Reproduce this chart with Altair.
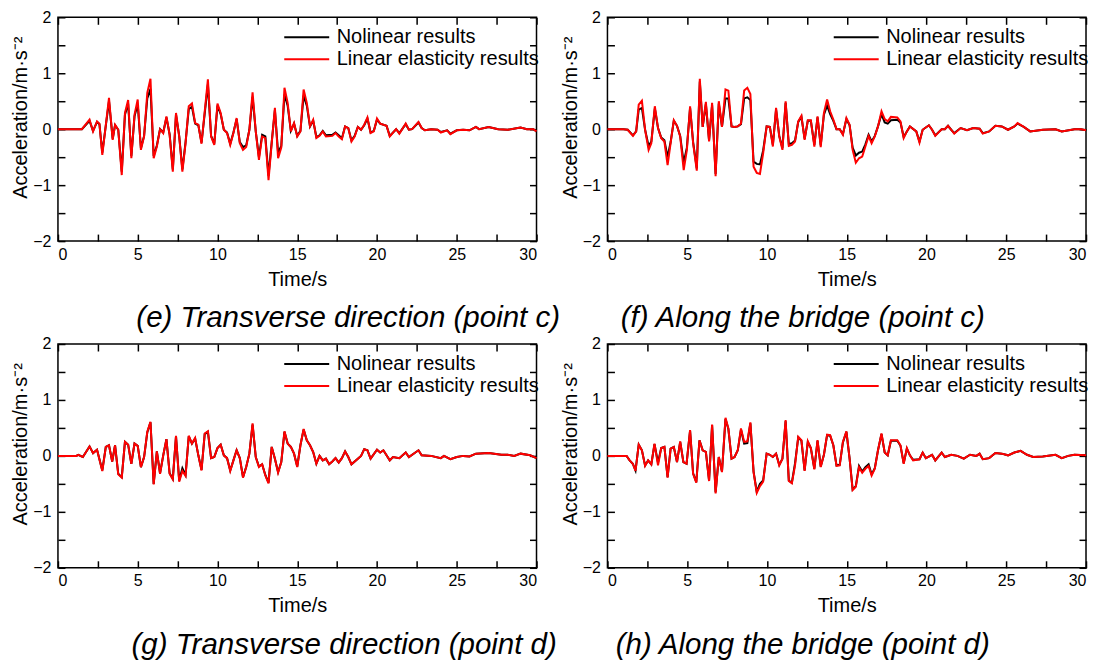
import altair as alt
import pandas as pd

S1 = "Nolinear results"
S2 = "Linear elasticity results"

# ---------------- Panel (e): Transverse direction, point c ----------------
T_E = [0, 1.5, 1.98, 2.2, 2.45, 2.6, 2.78, 3.2, 3.43, 3.58, 3.78, 4.0, 4.2, 4.4, 4.6, 4.8, 5.0, 5.2, 5.4, 5.6,
       5.8, 6.0, 6.2, 6.4, 6.6, 6.8, 7.0, 7.2, 7.4, 7.6, 7.8, 8.0, 8.2, 8.4, 8.6, 8.8, 9.0, 9.4, 9.6, 9.8,
       10.0, 10.2, 10.4, 10.6, 10.8, 11.0, 11.2, 11.4, 11.6, 11.8, 12.0, 12.2, 12.4, 12.6, 12.8, 13.0, 13.2, 13.4, 13.6, 13.8,
       14.0, 14.2, 14.4, 14.6, 14.8, 15.0, 15.2, 15.4, 15.6, 15.8, 16.0, 16.2, 16.4, 16.6, 16.8, 17.2, 17.4, 17.6, 17.8, 18.0,
       18.2, 18.4, 18.6, 18.8, 19.0, 19.2, 19.4, 19.6, 19.8, 20.0, 20.2, 20.6, 20.8, 21.2, 21.4, 21.8, 22.0, 22.2, 22.6, 22.8,
       23.0, 23.4, 23.8, 24.0, 24.4, 24.6, 25.0, 25.4, 25.8, 26.2, 26.4, 27.0, 27.6, 28.2, 29.0, 29.4, 29.8, 30.0]
LE_E = [0, 0, 0.17, -0.04, 0.14, 0.1, -0.46, 0.56, -0.19, 0.08, -0.01, -0.82, 0.29, 0.52, -0.52, 0.26, 0.53, -0.37, -0.13, 0.65,
        0.9, -0.52, -0.31, 0.0, -0.07, 0.23, -0.1, -0.76, 0.29, -0.13, -0.76, -0.25, 0.41, 0.46, 0.11, 0.08, -0.26, 0.89, -0.13, -0.28,
        0.46, 0.29, -0.01, -0.07, -0.28, -0.07, 0.2, -0.25, -0.37, -0.32, -0.01, 0.66, -0.04, -0.55, -0.13, -0.16, -0.91, -0.25, 0.38, -0.52,
        -0.33, 0.74, 0.47, -0.04, 0.11, -0.13, -0.04, 0.71, 0.47, 0.05, 0.17, -0.16, -0.12, -0.04, -0.13, -0.12, -0.07, -0.13, -0.18, 0.05,
        0.02, -0.22, -0.13, 0.04, -0.01, 0.08, 0.21, -0.07, -0.04, 0.19, 0.1, 0.06, -0.13, 0.0, -0.08, 0.1, -0.01, 0.0, 0.13, 0.02,
        -0.02, 0.0, -0.01, -0.06, -0.02, -0.09, -0.02, -0.01, -0.02, 0.04, 0.0, 0.04, 0.0, -0.01, 0.03, 0.0, 0.0, -0.04]
NL_E = [0, 0, 0.15, -0.03, 0.13, 0.09, -0.42, 0.5, -0.17, 0.07, -0.01, -0.76, 0.26, 0.46, -0.48, 0.23, 0.45, -0.34, -0.12, 0.55,
        0.72, -0.48, -0.29, 0.0, -0.06, 0.21, -0.09, -0.72, 0.26, -0.12, -0.72, -0.23, 0.36, 0.4, 0.1, 0.07, -0.24, 0.8, -0.12, -0.26,
        0.42, 0.27, -0.01, -0.06, -0.26, -0.06, 0.18, -0.23, -0.32, -0.29, -0.01, 0.58, -0.04, -0.5, -0.1, -0.13, -0.83, -0.23, 0.34, -0.42,
        -0.3, 0.62, 0.42, -0.03, 0.1, -0.12, -0.03, 0.6, 0.42, 0.05, 0.15, -0.14, -0.11, -0.03, -0.11, -0.1, -0.06, -0.11, -0.16, 0.05,
        0.02, -0.2, -0.12, 0.04, -0.01, 0.07, 0.19, -0.06, -0.03, 0.17, 0.1, 0.06, -0.12, 0.0, -0.07, 0.09, -0.01, 0.0, 0.12, 0.02,
        -0.02, 0.0, -0.01, -0.05, -0.02, -0.08, -0.02, -0.01, -0.02, 0.04, 0.0, 0.04, 0.0, -0.01, 0.03, 0.0, 0.0, -0.04]

# ---------------- Panel (f): Along the bridge, point c ----------------
T_F = [0, 1.0, 1.27, 1.6, 1.8, 1.96, 2.16, 2.36, 2.58, 2.75, 2.97, 3.17, 3.37, 3.57, 3.77, 3.96, 4.16, 4.36, 4.56, 4.78,
       4.98, 5.18, 5.37, 5.6, 5.79, 5.97, 6.17, 6.37, 6.56, 6.78, 6.98, 7.18, 7.4, 7.58, 7.78, 7.97, 8.17, 8.37, 8.57, 8.77,
       8.96, 9.16, 9.36, 9.56, 9.76, 9.98, 10.18, 10.37, 10.57, 10.77, 10.97, 11.17, 11.37, 11.56, 11.76, 11.96, 12.16, 12.36, 12.56, 12.75,
       12.97, 13.17, 13.37, 13.57, 13.77, 13.96, 14.16, 14.36, 14.56, 14.76, 14.98, 15.18, 15.37, 15.57, 15.77, 15.97, 16.17, 16.37, 16.56, 16.76,
       16.96, 17.18, 17.38, 17.57, 17.77, 18.17, 18.37, 18.57, 18.77, 18.96, 19.36, 19.56, 19.76, 20.15, 20.35, 20.55, 20.95, 21.15, 21.35, 21.55,
       21.74, 22.14, 22.54, 22.93, 23.33, 23.53, 23.93, 24.32, 24.72, 25.11, 25.51, 25.71, 26.1, 26.5, 27.3, 28.09, 28.48, 29.28, 29.68, 30.0]
LE_F = [0, 0, -0.01, -0.12, -0.04, 0.44, 0.51, -0.01, -0.37, -0.25, 0.41, 0.02, -0.16, -0.22, -0.64, -0.25, 0.16, 0.06, -0.13, -0.73,
        -0.37, 0.41, -0.25, -0.74, 0.9, 0.04, 0.49, -0.22, 0.47, -0.84, 0.5, 0.04, 0.71, 0.69, 0.05, 0.04, 0.05, 0.1, 0.69, 0.74,
        0.63, -0.67, -0.78, -0.8, -0.43, 0.05, 0.04, -0.31, 0.38, -0.13, -0.37, 0.5, -0.3, -0.28, -0.22, 0.14, 0.24, -0.19, 0.16, 0.16,
        -0.31, 0.23, -0.32, 0.29, 0.53, 0.32, 0.17, 0.0, 0.0, -0.1, 0.2, 0.08, -0.37, -0.6, -0.52, -0.49, -0.31, -0.12, -0.25, -0.13,
        0.05, 0.32, 0.18, 0.14, 0.22, 0.21, 0.14, -0.16, -0.04, 0.05, -0.04, -0.24, -0.01, 0.07, -0.01, -0.12, 0.0, 0.0, 0.06, -0.01,
        -0.08, 0.02, -0.02, 0.02, 0.01, -0.08, -0.04, 0.06, 0.05, -0.01, 0.05, 0.11, 0.04, -0.04, -0.01, 0.0, -0.04, 0.0, 0.0, -0.02]
NL_F = [0, 0, -0.01, -0.11, -0.04, 0.35, 0.38, -0.01, -0.3, -0.22, 0.37, 0.02, -0.15, -0.2, -0.5, -0.23, 0.15, 0.06, -0.12, -0.6,
        -0.33, 0.38, -0.23, -0.7, 0.85, 0.04, 0.45, -0.2, 0.43, -0.8, 0.46, 0.04, 0.55, 0.55, 0.05, 0.04, 0.05, 0.09, 0.55, 0.57,
        0.52, -0.58, -0.62, -0.63, -0.38, 0.05, 0.04, -0.28, 0.35, -0.12, -0.34, 0.47, -0.27, -0.25, -0.2, 0.13, 0.22, -0.17, 0.15, 0.15,
        -0.28, 0.21, -0.29, 0.26, 0.42, 0.27, 0.15, 0.0, 0.0, -0.09, 0.18, 0.07, -0.33, -0.47, -0.42, -0.4, -0.27, -0.1, -0.22, -0.12,
        0.05, 0.27, 0.12, 0.1, 0.16, 0.17, 0.12, -0.14, -0.04, 0.05, -0.04, -0.22, -0.01, 0.07, -0.01, -0.11, 0.0, 0.0, 0.06, -0.01,
        -0.07, 0.02, -0.02, 0.02, 0.01, -0.07, -0.04, 0.06, 0.05, -0.01, 0.05, 0.1, 0.04, -0.04, -0.01, 0.0, -0.04, 0.0, 0.0, -0.02]

# ---------------- Panel (g): Transverse direction, point d ----------------
T_G = [0, 1.16, 1.27, 1.56, 1.98, 2.2, 2.45, 2.78, 3.0, 3.2, 3.4, 3.58, 3.78, 4.0, 4.2, 4.4, 4.6, 4.8, 5.0, 5.2,
       5.4, 5.6, 5.8, 6.0, 6.2, 6.4, 6.6, 6.8, 7.0, 7.2, 7.4, 7.6, 7.8, 8.0, 8.2, 8.4, 8.6, 8.8, 9.0, 9.2,
       9.4, 9.6, 9.8, 10.0, 10.2, 10.4, 10.6, 10.8, 11.0, 11.2, 11.4, 11.6, 11.8, 12.0, 12.2, 12.4, 12.6, 12.8, 13.0, 13.2,
       13.4, 13.6, 13.8, 14.0, 14.2, 14.4, 14.6, 14.8, 15.0, 15.2, 15.4, 15.6, 15.8, 16.0, 16.2, 16.4, 16.6, 16.8, 17.0, 17.2,
       17.4, 17.6, 17.8, 18.0, 18.2, 18.4, 18.8, 19.0, 19.2, 19.4, 19.6, 20.0, 20.2, 20.4, 20.8, 21.0, 21.4, 21.8, 22.0, 22.6,
       22.8, 23.4, 24.0, 24.2, 24.6, 25.0, 25.4, 25.8, 26.2, 27.0, 27.8, 28.2, 28.6, 29.0, 29.6, 30.0]
LE_G = [0, 0, 0.02, -0.02, 0.17, 0.05, 0.11, -0.27, 0.16, 0.19, -0.1, 0.19, -0.33, -0.39, 0.25, 0.2, -0.14, 0.22, 0.18, -0.2,
        -0.02, 0.43, 0.61, -0.51, 0.08, -0.32, 0.01, 0.3, -0.32, -0.42, 0.36, -0.46, -0.27, -0.36, 0.36, 0.22, 0.32, 0.01, -0.26, 0.4,
        0.44, -0.04, -0.02, 0.14, 0.2, 0.01, -0.04, -0.27, -0.08, 0.1, -0.04, -0.39, -0.2, 0.04, 0.58, -0.02, -0.2, -0.15, -0.35, -0.49,
        0.16, -0.05, -0.3, -0.11, 0.44, 0.22, 0.16, 0.04, -0.2, 0.19, 0.48, 0.28, 0.19, 0.07, -0.14, 0.0, -0.08, -0.05, -0.15, -0.1,
        -0.04, -0.12, -0.04, 0.08, -0.02, -0.15, -0.05, 0.0, 0.12, 0.1, -0.05, 0.11, 0.06, 0.1, -0.08, -0.02, -0.04, 0.06, -0.02, 0.1,
        0.01, 0.0, -0.04, 0.0, -0.06, -0.02, 0.0, -0.01, 0.04, 0.05, 0.02, 0.02, 0.0, 0.04, 0.01, -0.04]
NL_G = [0, 0, 0.02, -0.02, 0.17, 0.05, 0.11, -0.26, 0.16, 0.19, -0.1, 0.19, -0.32, -0.38, 0.25, 0.2, -0.14, 0.22, 0.18, -0.2,
        -0.02, 0.42, 0.6, -0.5, 0.08, -0.31, 0.01, 0.3, -0.31, -0.41, 0.35, -0.44, -0.22, -0.34, 0.35, 0.22, 0.31, 0.01, -0.25, 0.39,
        0.43, -0.04, -0.02, 0.14, 0.2, 0.01, -0.04, -0.26, -0.08, 0.1, -0.04, -0.38, -0.2, 0.04, 0.56, -0.02, -0.19, -0.15, -0.34, -0.48,
        0.16, -0.05, -0.29, -0.11, 0.43, 0.22, 0.16, 0.04, -0.19, 0.19, 0.47, 0.28, 0.19, 0.07, -0.14, 0.0, -0.08, -0.05, -0.15, -0.1,
        -0.04, -0.12, -0.04, 0.08, -0.02, -0.15, -0.05, 0.0, 0.12, 0.1, -0.05, 0.11, 0.06, 0.1, -0.08, -0.02, -0.04, 0.06, -0.02, 0.1,
        0.01, 0.0, -0.04, 0.0, -0.06, -0.02, 0.0, -0.01, 0.04, 0.05, 0.02, 0.02, 0.0, 0.04, 0.01, -0.04]

# ---------------- Panel (h): Along the bridge, point d ----------------
T_H = [0, 1.2, 1.39, 1.59, 1.76, 1.96, 2.16, 2.36, 2.55, 2.75, 2.95, 3.17, 3.37, 3.57, 3.77, 3.96, 4.16, 4.36, 4.56, 4.76,
       4.96, 5.18, 5.37, 5.57, 5.77, 5.97, 6.17, 6.37, 6.56, 6.78, 6.98, 7.18, 7.4, 7.58, 7.78, 7.97, 8.17, 8.37, 8.57, 8.77,
       8.96, 9.16, 9.36, 9.56, 9.76, 9.98, 10.18, 10.37, 10.57, 10.77, 10.97, 11.17, 11.37, 11.56, 11.76, 11.96, 12.16, 12.36, 12.56, 12.75,
       12.97, 13.17, 13.37, 13.57, 13.77, 13.96, 14.16, 14.36, 14.56, 14.76, 14.98, 15.18, 15.37, 15.57, 15.77, 15.97, 16.17, 16.37, 16.56, 16.76,
       16.96, 17.18, 17.38, 17.57, 17.77, 18.17, 18.37, 18.57, 18.77, 18.96, 19.16, 19.56, 19.76, 19.96, 20.35, 20.55, 20.95, 21.15, 21.55, 21.94,
       22.34, 22.73, 23.13, 23.33, 23.53, 23.93, 24.32, 24.72, 25.11, 25.51, 25.9, 26.3, 26.69, 27.29, 28.09, 28.48, 28.88, 29.28, 30.0]
LE_H = [0, 0, -0.08, -0.14, -0.27, 0.2, 0.1, -0.18, -0.08, -0.15, 0.22, -0.17, 0.14, 0.16, -0.39, 0.13, 0.16, -0.11, 0.26, -0.11,
        -0.14, 0.46, -0.32, -0.48, 0.28, 0.1, 0.07, -0.45, 0.56, -0.67, -0.02, -0.29, 0.68, 0.49, -0.05, -0.02, 0.1, 0.49, 0.25, 0.26,
        0.6, -0.29, -0.66, -0.54, -0.46, 0.04, 0.02, -0.02, 0.04, -0.17, -0.05, 0.64, -0.45, -0.49, -0.17, 0.34, 0.28, -0.27, 0.26, 0.14,
        -0.24, 0.28, -0.2, 0.02, 0.38, 0.37, 0.19, -0.18, -0.17, 0.25, 0.44, -0.05, -0.61, -0.55, -0.2, -0.3, -0.23, -0.18, -0.35, -0.23,
        0.1, 0.4, 0.06, 0.01, 0.28, 0.28, 0.19, -0.14, 0.14, 0.01, -0.08, -0.06, 0.06, -0.04, 0.02, -0.08, 0.06, -0.02, 0.02, 0.0,
        -0.05, 0.02, 0.0, 0.04, -0.06, -0.04, 0.05, 0.04, 0.01, 0.06, 0.09, 0.02, -0.02, -0.01, 0.02, -0.04, 0.0, 0.02, 0.01]
NL_H = [0, 0, -0.08, -0.14, -0.26, 0.2, 0.1, -0.17, -0.08, -0.15, 0.21, -0.12, 0.14, 0.16, -0.38, 0.13, 0.16, -0.11, 0.25, -0.11,
        -0.14, 0.45, -0.31, -0.47, 0.28, 0.1, 0.07, -0.44, 0.55, -0.65, -0.02, -0.28, 0.66, 0.48, -0.05, -0.02, 0.1, 0.47, 0.22, 0.23,
        0.58, -0.28, -0.64, -0.5, -0.44, 0.04, 0.02, -0.02, 0.04, -0.16, -0.05, 0.62, -0.44, -0.48, -0.13, 0.33, 0.27, -0.26, 0.25, 0.14,
        -0.23, 0.27, -0.19, 0.02, 0.37, 0.36, 0.19, -0.17, -0.16, 0.24, 0.43, -0.05, -0.6, -0.54, -0.18, -0.28, -0.2, -0.15, -0.33, -0.22,
        0.1, 0.39, 0.06, 0.01, 0.27, 0.27, 0.18, -0.13, 0.13, 0.01, -0.07, -0.06, 0.06, -0.04, 0.02, -0.08, 0.06, -0.02, 0.02, 0.0,
        -0.05, 0.02, 0.0, 0.04, -0.06, -0.04, 0.05, 0.04, 0.01, 0.06, 0.09, 0.02, -0.02, -0.01, 0.02, -0.04, 0.0, 0.02, 0.01]

CAPTIONS = ["(e) Transverse direction (point c)", "(f) Along the bridge (point c)",
            "(g) Transverse direction (point d)", "(h) Along the bridge (point d)"]
CAPTION_DX = [51, -44, 47, -44]

X_LABELS = [0, 5, 10, 15, 20, 25, 30]
X_TICKS = [0, 2.5, 5, 7.5, 10, 12.5, 15, 17.5, 20, 22.5, 25, 27.5, 30]
Y_LABELS = [-2, -1, 0, 1, 2]
Y_TICKS = [-2, -1.5, -1, -0.5, 0, 0.5, 1, 1.5, 2]

W, H = 479, 224
FONT = "Liberation Sans"

xs = alt.Scale(domain=[0, 30], nice=False, zero=False)
ys = alt.Scale(domain=[-2, 2], nice=False, zero=False)


def tick_axis(orient, values):
    # inward-pointing ticks (negative length given as an expression)
    return alt.Axis(orient=orient, values=values, labels=False, domain=False,
                    ticks=True, tickSize=alt.ExprRef(expr="-7"), tickWidth=1.5,
                    tickColor="#000000", grid=False, title=None)


def panel(T, NL, LE, caption, dx):
    df = pd.DataFrame({"t": list(T) + list(T), "v": list(NL) + list(LE),
                       "series": [S1] * len(T) + [S2] * len(T)})
    base = alt.Chart(df)
    color = alt.Color("series:N",
                      scale=alt.Scale(domain=[S1, S2], range=["#000000", "#ff0000"]),
                      legend=alt.Legend(orient="none", legendX=239, legendY=10, title=None,
                                        labelFont=FONT, labelFontSize=20, labelColor="#000000",
                                        symbolType="M-2.5,0H2.5", symbolSize=324, symbolStrokeWidth=2,
                                        labelOffset=20, rowPadding=2, padding=0, labelLimit=400))
    x_lab = alt.Axis(orient="bottom", values=X_LABELS, ticks=False, domain=False, grid=False,
                     labelFont=FONT, labelFontSize=16, labelColor="#000000", labelPadding=5,
                     title="Time/s", titleFont=FONT, titleFontSize=20, titleFontWeight="normal",
                     titleColor="#000000", titlePadding=7)
    y_lab = alt.Axis(orient="left", values=Y_LABELS, ticks=False, domain=False, grid=False,
                     labelFont=FONT, labelFontSize=16, labelColor="#000000", labelPadding=7,
                     title="Acceleration/m·s⁻²", titleFont=FONT, titleFontSize=20,
                     titleFontWeight="normal", titleColor="#000000", titlePadding=2, titleY=100)
    l1 = base.transform_filter(alt.datum.series == S1).mark_line(strokeWidth=2).encode(
        x=alt.X("t:Q", scale=xs, axis=x_lab),
        y=alt.Y("v:Q", scale=ys, axis=y_lab),
        color=color)
    l2 = base.transform_filter(alt.datum.series == S2).mark_line(strokeWidth=2).encode(
        x=alt.X("t:Q", scale=xs, axis=tick_axis("bottom", X_TICKS)),
        y=alt.Y("v:Q", scale=ys, axis=tick_axis("left", Y_TICKS)),
        color=color)
    l3 = base.transform_filter(alt.datum.series == S2).mark_line(strokeOpacity=0).encode(
        x=alt.X("t:Q", scale=xs, axis=tick_axis("top", X_TICKS)),
        y=alt.Y("v:Q", scale=ys, axis=tick_axis("right", Y_TICKS)))
    return alt.layer(l1, l2, l3).resolve_axis(x="independent", y="independent").properties(
        width=W, height=H,
        title=alt.TitleParams(text=caption, orient="bottom", anchor="middle", dx=dx, offset=15,
                              font=FONT, fontSize=29.5, fontStyle="italic", fontWeight="normal",
                              color="#000000"))


panels = [
    panel(T_E, NL_E, LE_E, CAPTIONS[0], CAPTION_DX[0]),
    panel(T_F, NL_F, LE_F, CAPTIONS[1], CAPTION_DX[1]),
    panel(T_G, NL_G, LE_G, CAPTIONS[2], CAPTION_DX[2]),
    panel(T_H, NL_H, LE_H, CAPTIONS[3], CAPTION_DX[3]),
]

chart = alt.concat(*panels, columns=2, spacing={"row": 103, "column": 71}, bounds="flush").resolve_scale(
    color="independent").resolve_legend(color="independent").properties(
    padding={"left": 2, "top": 0, "right": 5, "bottom": 5}, background="#ffffff").configure_view(
    stroke="#000000", strokeWidth=1.5)

chart.save("out.html", embed_options={"renderer": "svg", "actions": False})
